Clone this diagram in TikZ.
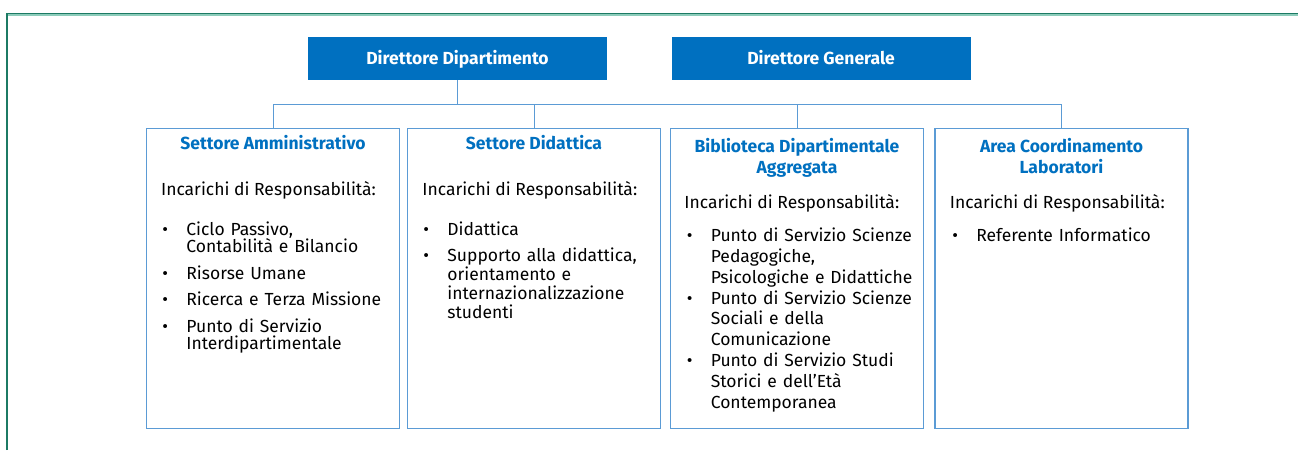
\documentclass[tikz,border=0pt]{standalone}
\usepackage{fontspec}
\setmainfont{Fira Sans}
\usetikzlibrary{positioning,calc}
\definecolor{headblue}{RGB}{0,112,192}
\definecolor{lineblue}{RGB}{91,155,213}
\definecolor{framegreen}{RGB}{28,122,100}
\definecolor{framelight}{RGB}{140,204,186}
\newcommand{\itembreak}{\hfil\break}
\newcommand{\respitem}[1]{\hangindent=24pt\hangafter=1\noindent\makebox[24pt][l]{•}#1\par}
\tikzset{
  headbox/.style={fill=headblue, text=white, font=\fontsize{17.5}{21}\selectfont\bfseries,
    minimum width=299pt, minimum height=43pt, inner sep=0pt, text height=13pt, text depth=2pt},
  unitbox/.style={draw=lineblue, line width=1.2pt, minimum width=253pt, minimum height=300pt,
    inner sep=0pt, anchor=north},
  unittitle/.style={text=headblue, font=\fontsize{17.5}{21}\selectfont\bfseries, align=center,
    inner sep=0pt, anchor=base},
  resplabel/.style={font=\fontsize{17.5}{20}\selectfont, inner sep=0pt, anchor=base west},
  resplist/.style 2 args={font=\fontsize{17.5}{#1}\selectfont, text width=240pt, align=left,
    inner sep=0pt, anchor=base west, execute at begin node={\setlength{\parskip}{#2}}},
  link/.style={draw=lineblue, line width=1pt}
}
\begin{document}
\begin{tikzpicture}[x=1pt, y=-1pt]
\useasboundingbox (0,0) rectangle (1298,450);
% page frame
\draw[framelight, line width=1.6pt] (7.5,15.2) -- (1298,15.2);
\draw[framegreen, line width=1.2pt] (7,450) -- (7,13.6) -- (1298,13.6);

% top level
\node[headbox] (dirdip) at (457.5,58.5) {Direttore Dipartimento};
\node[headbox] (dirgen) at (821,58.5) {Direttore Generale};

% units
\node[unitbox] (amm) at (273,128) {};
\node[unitbox] (did) at (534,128) {};
\node[unitbox] (bib) at (797,128) {};
\node[unitbox] (lab) at (1061.5,128) {};

% connectors
\coordinate (bus) at ($(dirdip.south)+(0,24)$);
\draw[link] (dirdip.south) -- (bus);
\draw[link] (amm.north) |- (bus) -| (lab.north);
\draw[link] (did.north) -- (did.north |- bus);
\draw[link] (bib.north) -- (bib.north |- bus);

% Settore Amministrativo
\node[unittitle] (ammT) at ($(amm.north)+(0,21.3)$) {Settore Amministrativo};
\node[resplabel] (ammI) at ($(amm.north west)+(15,67.3)$) {Incarichi di Responsabilità:};
\node[resplist={17.5pt}{9pt}] (ammL) at ($(amm.north west)+(16.3,107)$) {%
  \respitem{Ciclo Passivo,\itembreak Contabilità e Bilancio}%
  \respitem{Risorse Umane}%
  \respitem{Ricerca e Terza Missione}%
  \respitem{Punto di Servizio\itembreak Interdipartimentale}};

% Settore Didattica
\node[unittitle] (didT) at ($(did.north)+(0,21.3)$) {Settore Didattica};
\node[resplabel] (didI) at ($(did.north west)+(15.3,67.3)$) {Incarichi di Responsabilità:};
\node[resplist={19pt}{7pt}] (didL) at ($(did.north west)+(16.3,107)$) {%
  \respitem{Didattica}%
  \respitem{Supporto alla didattica,\itembreak orientamento e\itembreak internazionalizzazione\itembreak studenti}};

% Biblioteca
\node[unittitle] (bibT) at ($(bib.north)+(0,45.3)$) {Biblioteca Dipartimentale\\Aggregata};
\node[resplabel] (bibI) at ($(bib.north west)+(14.3,80.3)$) {Incarichi di Responsabilità:};
\node[resplist={20.8pt}{0pt}] (bibL) at ($(bib.north west)+(16.7,113.7)$) {%
  \respitem{Punto di Servizio Scienze\itembreak Pedagogiche,\itembreak Psicologiche e Didattiche}%
  \respitem{Punto di Servizio Scienze\itembreak Sociali e della\itembreak Comunicazione}%
  \respitem{Punto di Servizio Studi\itembreak Storici e dell’Età\itembreak Contemporanea}};

% Area Coordinamento
\node[unittitle] (labT) at ($(lab.north)+(0,45.3)$) {Area Coordinamento\\Laboratori};
\node[resplabel] (labI) at ($(lab.north west)+(15.3,80.3)$) {Incarichi di Responsabilità:};
\node[resplist={18pt}{0pt}] (labL) at ($(lab.north west)+(17.7,113.7)$) {%
  \respitem{Referente Informatico}};
\end{tikzpicture}
\end{document}
